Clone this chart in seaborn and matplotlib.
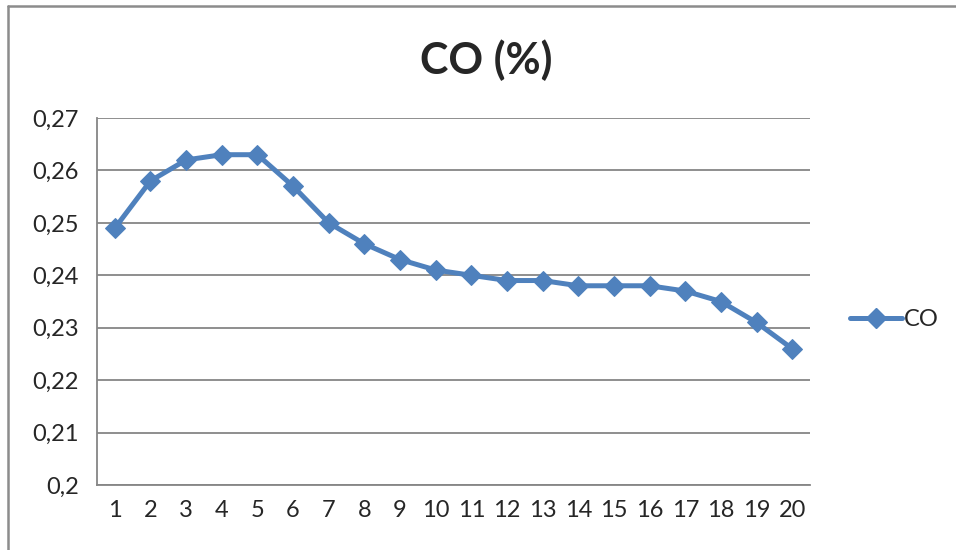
import matplotlib
matplotlib.use("Agg")
import matplotlib.pyplot as plt
import seaborn as sns
import pandas as pd
from matplotlib.lines import Line2D

categories = list(range(1, 21))
co_values = [0.249, 0.258, 0.262, 0.263, 0.263, 0.257, 0.250, 0.246, 0.243, 0.241,
             0.240, 0.239, 0.239, 0.238, 0.238, 0.238, 0.237, 0.235, 0.231, 0.226]
y_ticks = [0.20, 0.21, 0.22, 0.23, 0.24, 0.25, 0.26, 0.27]
y_tick_labels = ["0,2", "0,21", "0,22", "0,23", "0,24", "0,25", "0,26", "0,27"]

sns.set_style("white")
plt.rcParams['font.family'] = ['Lato', 'DejaVu Sans']

color = "#4F81BD"
grid_color = "#868686"

fig = plt.figure(figsize=(9.56, 5.5), dpi=100)
ax = fig.add_axes([97/956, 1-485/550, (810-97)/956, (485-118)/550])

df = pd.DataFrame({"cat": categories, "CO": co_values})
sns.lineplot(data=df, x="cat", y="CO", ax=ax, color=color, linewidth=3.6,
             marker="D", markersize=10, markeredgecolor=color, legend=False)

ax.set_xlim(0.5, 20.5)
ax.set_ylim(0.2, 0.27)
ax.set_yticks(y_ticks)
ax.set_yticklabels(y_tick_labels, fontsize=17)
ax.set_xticks(categories)
ax.set_xticklabels([str(c) for c in categories], fontsize=17)
ax.set_xticks([c + 0.5 for c in [0] + categories], minor=True)
ax.tick_params(axis="x", which="major", length=0, pad=11)
ax.tick_params(axis="x", which="minor", length=7, width=1.3, color=grid_color, direction="out")
ax.tick_params(axis="y", which="major", length=7, width=1.3, color=grid_color, direction="out", pad=6)
ax.set_xlabel("")
ax.set_ylabel("")

ax.grid(axis="y", color=grid_color, linewidth=1.3)
ax.set_axisbelow(True)
for s in ["top", "right"]:
    ax.spines[s].set_visible(False)
for s in ["left", "bottom"]:
    ax.spines[s].set_color(grid_color)
    ax.spines[s].set_linewidth(1.3)

fig.text(486/956, 1-60/550, "CO (%)", ha="center", va="center",
         fontsize=31, fontweight="bold")

handle = Line2D([], [], color=color, linewidth=3.6, marker="D", markersize=10)
fig.legend([handle], ["CO"], loc="center left", bbox_to_anchor=(850/956, 1-320/550),
           frameon=False, fontsize=17, handlelength=2.2, handletextpad=0.1,
           borderpad=0, borderaxespad=0)

# outer chart border (left and top)
fig.add_artist(Line2D([7.5/956, 7.5/956], [0, 1-5.5/550], color="#8C8C8C", linewidth=1.8,
                      transform=fig.transFigure))
fig.add_artist(Line2D([7.5/956, 1], [1-5.5/550, 1-5.5/550], color="#8C8C8C", linewidth=1.8,
                      transform=fig.transFigure))

fig.savefig("out.png", dpi=100)
